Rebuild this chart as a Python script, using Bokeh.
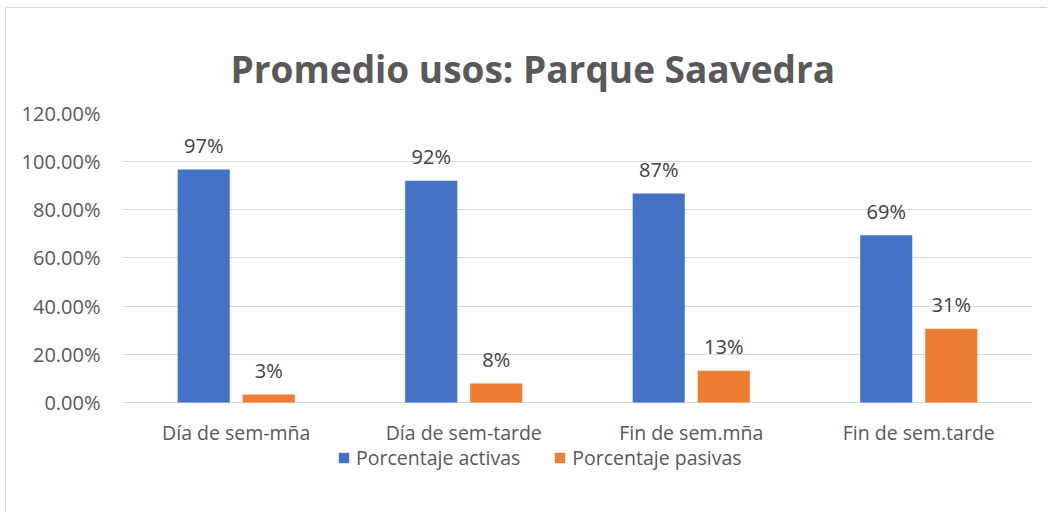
from bokeh.plotting import figure
from bokeh.models import (ColumnDataSource, FactorRange, NumeralTickFormatter,
                          FixedTicker, Legend, LegendItem, Range1d)
from bokeh.transform import dodge
from bokeh.core.properties import value
from bokeh.embed import file_html
from bokeh.resources import INLINE

categories = ["Día de sem-mña", "Día de sem-tarde", "Fin de sem.mña", "Fin de sem.tarde"]
activas = [0.967, 0.921, 0.868, 0.694]
pasivas = [0.033, 0.079, 0.132, 0.306]
activas_labels = ["97%", "92%", "87%", "69%"]
pasivas_labels = ["3%", "8%", "13%", "31%"]
y_ticks = [0, 0.2, 0.4, 0.6, 0.8, 1.0, 1.2]

FONT = "Open Sans"
TXT = "#595959"
FS = "19.5px"

src = ColumnDataSource(dict(cat=categories, a=activas, p=pasivas,
                            al=activas_labels, pl=pasivas_labels, zero=[0] * len(categories)))

# frame extends below zero to host category labels and legend (395 px tall, 289 px = 0..1.2)
p = figure(x_range=FactorRange(*categories, range_padding=0), y_range=Range1d(-0.44015, 1.2),
           frame_width=910, frame_height=395, output_backend="svg", toolbar_location=None,
           x_axis_location=None,
           min_border_left=116, min_border_right=15, min_border_top=105, min_border_bottom=4)

p.title.text = "Promedio usos: Parque Saavedra"
p.title.text_font = FONT
p.title.text_font_size = "37px"
p.title.text_font_style = "bold"
p.title.text_color = TXT
p.title.align = "left"
p.title.offset = 108
p.title.standoff = 40

r1 = p.vbar(x=dodge("cat", -0.143, range=p.x_range), top="a", width=0.229, source=src,
            fill_color="#4472C4", line_color=None)
r2 = p.vbar(x=dodge("cat", 0.143, range=p.x_range), top="p", width=0.229, source=src,
            fill_color="#ED7D31", line_color=None)

for col, lab, off in (("a", "al", -0.143), ("p", "pl", 0.143)):
    p.text(x=dodge("cat", off, range=p.x_range), y=col, text=lab, source=src,
           text_align="center", text_baseline="middle", y_offset=-24,
           text_font=value(FONT), text_font_size="20px", text_color="#404040")

# category labels under the zero line
p.text(x="cat", y="zero", text="cat", source=src, text_align="center",
       text_baseline="middle", y_offset=30, text_font=value(FONT),
       text_font_size=FS, text_color=TXT)

p.yaxis.ticker = FixedTicker(ticks=y_ticks)
p.yaxis.formatter = NumeralTickFormatter(format="0.00%")
p.yaxis.axis_line_color = None
p.yaxis.major_tick_line_color = None
p.yaxis.major_tick_out = 0
p.yaxis.minor_tick_line_color = None
p.yaxis.major_label_text_font = FONT
p.yaxis.major_label_text_font_size = "20px"
p.yaxis.major_label_text_color = TXT
p.yaxis.major_label_standoff = 22

p.xgrid.grid_line_color = None
p.ygrid.grid_line_color = "#d9d9d9"
p.ygrid.ticker = FixedTicker(ticks=y_ticks)
p.outline_line_color = None

legend = Legend(items=[LegendItem(label="Porcentaje activas", renderers=[r1]),
                       LegendItem(label="Porcentaje pasivas", renderers=[r2])],
                orientation="horizontal", location=(215, 37),
                label_text_font=FONT, label_text_font_size=FS, label_text_color=TXT,
                glyph_width=13, glyph_height=13, label_height=20, spacing=33, label_standoff=6,
                border_line_color=None, background_fill_alpha=0, margin=0, padding=0)
p.add_layout(legend, "center")

p.styles = {"border-top": "1px solid #d9d9d9", "border-left": "1px solid #d9d9d9",
            "margin-left": "5px", "margin-top": "7px"}

open("out.html", "w").write(file_html(p, INLINE))
